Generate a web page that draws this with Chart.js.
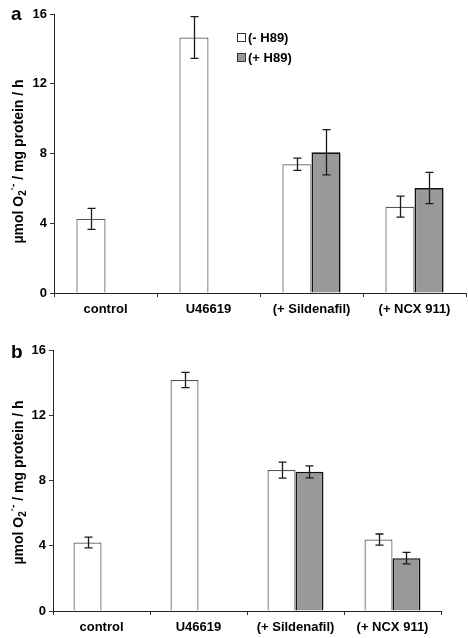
<!DOCTYPE html>
<html>
<head>
<meta charset="utf-8">
<script src="https://cdn.jsdelivr.net/npm/chart.js@4"></script>
<style>
  body { margin: 0; background: #fff; width: 468px; height: 638px; position: relative; overflow: hidden; }
  .panel { position: absolute; left: 0; width: 468px; }
  .tag { position: absolute; font: bold 19px Arial, "Liberation Sans", sans-serif; color: #000; }
  .legend { position: absolute; font: bold 13px Arial, "Liberation Sans", sans-serif; color: #000; }
  .legend div { height: 20px; line-height: 20px; white-space: nowrap; }
  .legend span.box { display: inline-block; width: 7px; height: 7px; border: 1px solid #333; margin-right: 2px; vertical-align: 0px; }
</style>
</head>
<body>
<div class="panel" style="top:0;height:318px"><canvas id="chartA" width="468" height="318"></canvas></div>
<div class="panel" style="top:318px;height:320px"><canvas id="chartB" width="468" height="320"></canvas></div>
<div class="tag" style="left:11px;top:3px">a</div>
<div class="tag" style="left:11px;top:341px">b</div>
<div class="legend" id="legendA" style="left:237px;top:28px"></div>

<script>
let categories = ["control", "U46619", "(+ Sildenafil)", "(+ NCX 911)"];
let seriesNames = ["(- H89)", "(+ H89)"];
let yTicks = [0, 4, 8, 12, 16];

// panel a
let aMinusH89 = [4.25, 14.65, 7.38, 4.95];
let aPlusH89 = [null, null, 8.07, 6.02];
let aMinusErr = [0.6, 1.2, 0.35, 0.6];
let aPlusErr = [null, null, 1.3, 0.9];

// panel b
let bMinusH89 = [4.2, 14.16, 8.64, 4.38];
let bPlusH89 = [null, null, 8.53, 3.24];
let bMinusErr = [0.33, 0.47, 0.49, 0.34];
let bPlusErr = [null, null, 0.37, 0.35];

let fillColors = ["#ffffff", "#999999"];
let edgeColors = ["#555555", "#111111"];
let edgeWidths = [1.2, 1.6];
let fontFamily = 'Arial, "Liberation Sans", sans-serif';

let errorBars = {
  id: 'errorBars',
  afterDatasetsDraw(chart, args, opts) {
    let ctx = chart.ctx;
    let y = chart.scales.y;
    ctx.save();
    ctx.strokeStyle = '#1a1a1a';
    ctx.lineWidth = 1.3;
    chart.data.datasets.forEach((ds, i) => {
      let meta = chart.getDatasetMeta(i);
      meta.data.forEach((bar, j) => {
        let v = ds.data[j], e = ds.errors[j];
        if (v == null || e == null) return;
        let x = Math.round(bar.x) + 0.5;
        let top = y.getPixelForValue(v + e), bot = y.getPixelForValue(v - e);
        ctx.beginPath();
        ctx.moveTo(x, top); ctx.lineTo(x, bot);
        ctx.moveTo(x - 4, top); ctx.lineTo(x + 4, top);
        ctx.moveTo(x - 4, bot); ctx.lineTo(x + 4, bot);
        ctx.stroke();
      });
    });
    ctx.restore();
  }
};

// rotated y title with sub/superscript
let yTitle = {
  id: 'yTitle',
  afterDraw(chart, args, opts) {
    let ctx = chart.ctx;
    let area = chart.chartArea;
    let parts = [
      { t: 'µmol O', size: 14, dy: 0 },
      { t: '2', size: 10, dy: 4 },
      { t: '·-', size: 10, dy: -6 },
      { t: ' / mg protein / h', size: 14, dy: 0 }
    ];
    ctx.save();
    let total = 0;
    parts.forEach(p => { ctx.font = 'bold ' + p.size + 'px ' + fontFamily; p.w = ctx.measureText(p.t).width; total += p.w; });
    ctx.translate(opts.x, (area.top + area.bottom) / 2 + opts.dy);
    ctx.rotate(-Math.PI / 2);
    ctx.fillStyle = '#000';
    ctx.textBaseline = 'middle';
    let cx = -total / 2;
    parts.forEach(p => {
      ctx.font = 'bold ' + p.size + 'px ' + fontFamily;
      ctx.fillText(p.t, cx, p.dy);
      cx += p.w;
    });
    ctx.restore();
  }
};

function makeChart(id, minus, plus, minusErr, plusErr, cfg) {
  return new Chart(document.getElementById(id), {
    type: 'bar',
    data: {
      labels: categories,
      datasets: [
        { label: seriesNames[0], data: minus, errors: minusErr, backgroundColor: fillColors[0], borderColor: edgeColors[0], borderWidth: edgeWidths[0] },
        { label: seriesNames[1], data: plus, errors: plusErr, backgroundColor: fillColors[1], borderColor: edgeColors[1], borderWidth: edgeWidths[1] }
      ]
    },
    options: {
      responsive: false,
      animation: false,
      events: [],
      categoryPercentage: cfg.cat,
      barPercentage: 1,
      layout: { padding: { top: cfg.top, right: cfg.right, bottom: 0, left: 0 } },
      plugins: {
        legend: { display: false },
        tooltip: { enabled: false },
        yTitle: { x: 19, dy: cfg.titleDy }
      },
      scales: {
        x: {
          grid: { display: true, drawOnChartArea: false, drawTicks: true, tickLength: 4, color: '#333', offset: true },
          border: { color: '#222', width: 1 },
          ticks: { color: '#000', font: { family: fontFamily, size: 13, weight: 'bold' }, padding: 5, maxRotation: 0, autoSkip: false },
          afterFit: s => { s.height = cfg.xh; }
        },
        y: {
          min: 0, max: 16,
          afterBuildTicks: s => { s.ticks = yTicks.map(v => ({ value: v })); },
          grid: { display: true, drawOnChartArea: false, drawTicks: true, tickLength: 4, color: '#333' },
          border: { color: '#222', width: 1 },
          ticks: { color: '#000', font: { family: fontFamily, size: 13, weight: 'bold' }, padding: 3 },
          afterFit: s => { s.width = cfg.yw; }
        }
      }
    },
    plugins: [errorBars, yTitle]
  });
}

let chartA = makeChart('chartA', aMinusH89, aPlusH89, aMinusErr, aPlusErr, { cat: 0.565, top: 14, right: 2, xh: 25, yw: 54, titleDy: 8 });
let chartB = makeChart('chartB', bMinusH89, bPlusH89, bMinusErr, bPlusErr, { cat: 0.577, top: 32, right: 27, xh: 27, yw: 53, titleDy: 2 });

// legend built from dataset labels
let legendA = document.getElementById('legendA');
chartA.data.datasets.forEach(ds => {
  let row = document.createElement('div');
  let box = document.createElement('span');
  box.className = 'box';
  box.style.background = ds.backgroundColor;
  row.appendChild(box);
  row.appendChild(document.createTextNode(ds.label));
  legendA.appendChild(row);
});
</script>
</body>
</html>
